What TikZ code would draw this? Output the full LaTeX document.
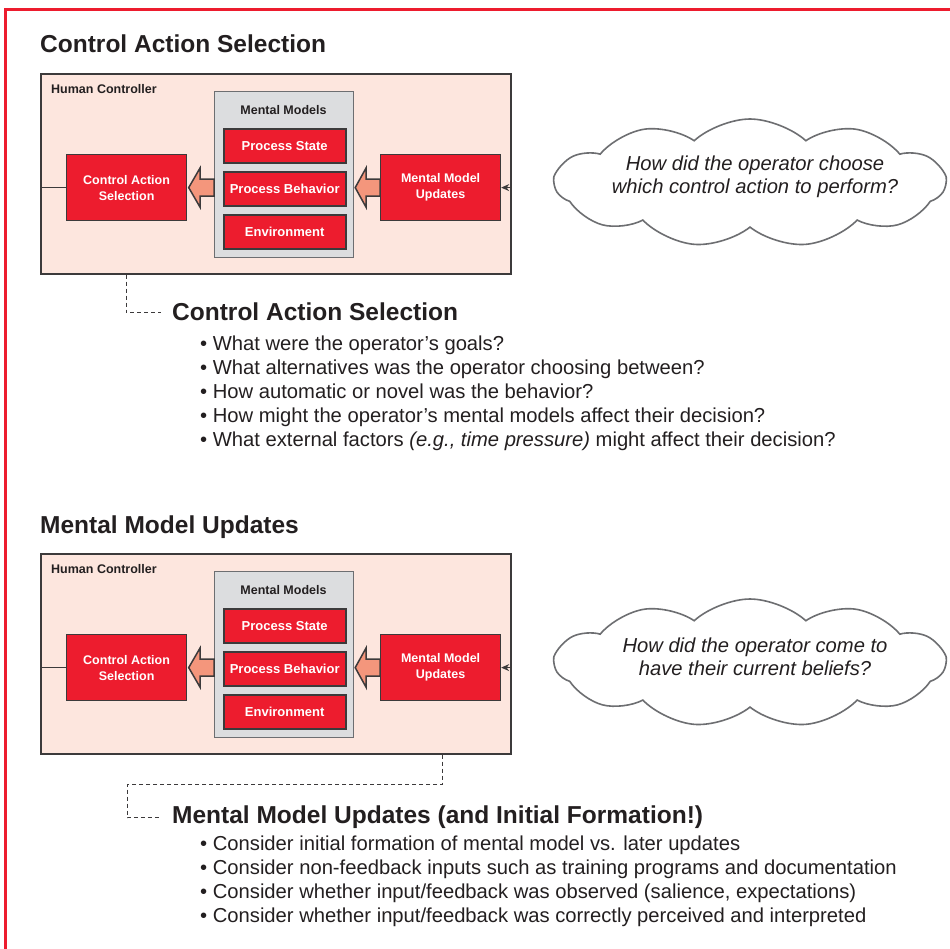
\documentclass[tikz,border=0pt]{standalone}
\usepackage{fontspec}
\setmainfont{Liberation Sans}
\usetikzlibrary{shapes.symbols,arrows.meta,calc}
\definecolor{cred}{HTML}{ED1C2E}
\definecolor{cpink}{HTML}{FDE6DE}
\definecolor{cgray}{HTML}{DCDDDF}
\definecolor{carrow}{HTML}{F4967C}
\definecolor{cdark}{HTML}{3C3A3B}
\definecolor{ctext}{HTML}{231F20}
\definecolor{ccloud}{HTML}{6D6E71}
\tikzset{
  hcbox/.style={draw=cdark, line width=1.6pt, fill=cpink, minimum width=470pt, minimum height=200pt, inner sep=0pt, anchor=north west},
  hclabel/.style={anchor=base west, inner sep=0pt, text=ctext, font=\fontsize{12.5}{15}\selectfont\bfseries},
  mmbox/.style={draw=ccloud, line width=1.2pt, fill=cgray, minimum width=139pt, minimum height=166pt, inner sep=0pt, anchor=north west},
  mmlabel/.style={anchor=base, inner sep=0pt, text=ctext, font=\fontsize{12.5}{15}\selectfont\bfseries},
  redsub/.style={draw=cdark, line width=2.4pt, fill=cred, minimum width=122pt, minimum height=34pt, text=white, font=\fontsize{13}{15}\selectfont\bfseries, inner sep=0pt, anchor=north west},
  redbox/.style={draw=cdark, line width=1.2pt, fill=cred, minimum width=120pt, minimum height=66pt, text=white, font=\fontsize{12.5}{16}\selectfont\bfseries, align=center, inner sep=0pt, anchor=north west},
  fatarrow/.style={draw=cdark, line width=1.5pt, fill=carrow, line join=miter},
  thinline/.style={draw=cdark, line width=1pt},
  dashline/.style={draw=cdark, line width=1pt, dash pattern=on 4pt off 3pt},
  cloudshape/.style={cloud, draw=ccloud, fill=white, line width=1.6pt, cloud puffs=11, cloud puff arc=85, cloud ignores aspect, minimum width=390pt, minimum height=128pt, inner sep=0pt},
  cloudtext/.style={align=center, inner sep=0pt, text=ctext, font=\fontsize{20.2}{23}\selectfont\itshape},
  title/.style={anchor=base west, inner sep=0pt, text=ctext, font=\fontsize{24.5}{29}\selectfont\bfseries},
  bullet/.style={anchor=base west, inner sep=0pt, text=ctext, font=\fontsize{20.2}{23}\selectfont},
}
\newcommand\hcpanel[2]{%
  \node[hcbox] (#1hc) at (40,73) {};
  \node[hclabel] (#1hcl) at (51,93) {Human Controller};
  \node[mmbox] (#1mm) at (214,91) {};
  \node[mmlabel] (#1mml) at (283.5,114.5) {Mental Models};
  \node[redsub] (#1ps) at (222.5,127.5) {Process State};
  \node[redsub] (#1pb) at (222.5,170.5) {Process Behavior};
  \node[redsub] (#1env) at (222.5,214) {Environment};
  \node[redbox] (#1cas) at (66,154) {Control Action\\Selection};
  \node[redbox] (#1mmu) at (380,154) {Mental Model\\Updates};
  \coordinate (#1A) at (#1mm.west |- #1cas.east);
  \draw[fatarrow] ($(#1A)+(0,-8.5)$) -- ++(-14,0) -- ++(0,-11) -- ($(#1cas.east)+(1.5,0)$) -- ($(#1A)+(-14,19.5)$) -- ++(0,-11) -- ($(#1A)+(0,8.5)$) -- cycle;
  \coordinate (#1B) at (#1mmu.west);
  \draw[fatarrow] ($(#1B)+(0,-8.5)$) -- ++(-14,0) -- ++(0,-11) -- ($(#1mm.east |- #1mmu.west)+(1,0)$) -- ($(#1B)+(-14,19.5)$) -- ++(0,-11) -- ($(#1B)+(0,8.5)$) -- cycle;
  \draw[thinline] (#1hc.west |- #1cas.west) -- (#1cas.west);
  \draw[thinline, -{Stealth[length=8pt,width=7pt]}] (#1hc.east |- #1mmu.east) -- (#1mmu.east);
  \node[cloudshape] (#1cloud) at (750,183) {};
  \node[cloudtext] (#1ctext) at (755,177) {#2};
}
\begin{document}
\begin{tikzpicture}[x=1pt,y=-1pt]
\useasboundingbox (0,0) rectangle (950,948);
\fill[white] (0,0) rectangle (950,948);
\draw[cred, line width=3pt] (5.5,960) -- (5.5,9) -- (960,9);

% ---- Panel 1 ----
\node[title] (t1) at (40,52) {Control Action Selection};
\hcpanel{p}{How did the operator choose\\which control action to perform?}
\node[title] (h1) at (172,320) {Control Action Selection};
\coordinate (d1) at ($(phc.south west)+(86,0)$);
\draw[dashline] (d1) |- ($(h1.west)+(-11,1)$);
\node[bullet] (b11) at (200,350) {• What were the operator’s goals?};
\node[bullet] (b12) at (200,374) {• What alternatives was the operator choosing between?};
\node[bullet] (b13) at (200,398) {• How automatic or novel was the behavior?};
\node[bullet] (b14) at (200,422) {• How might the operator’s mental models affect their decision?};
\node[bullet] (b15) at (200,446) {• What external factors \textit{(e.g., time pressure)} might affect their decision?};

% ---- Panel 2 ----
\node[title] (t2) at (40,533) {Mental Model Updates};
\begin{scope}[yshift=-480pt]
\hcpanel{q}{How did the operator come to\\have their current beliefs?}
\end{scope}
\node[title] (h2) at (172,823) {Mental Model Updates (and Initial Formation!)};
\coordinate (d2) at ($(qhc.south west)+(402,0)$);
\draw[dashline] (d2) -- ++(0,30) -| ($(h2.west)+(-45,1)$) -- ($(h2.west)+(-11,1)$);
\node[bullet] (b21) at (200,850) {• Consider initial formation of mental model vs. later updates};
\node[bullet] (b22) at (200,874) {• Consider non-feedback inputs such as training programs and documentation};
\node[bullet] (b23) at (200,898) {• Consider whether input/feedback was observed (salience, expectations)};
\node[bullet] (b24) at (200,922) {• Consider whether input/feedback was correctly perceived and interpreted};
\end{tikzpicture}
\end{document}
